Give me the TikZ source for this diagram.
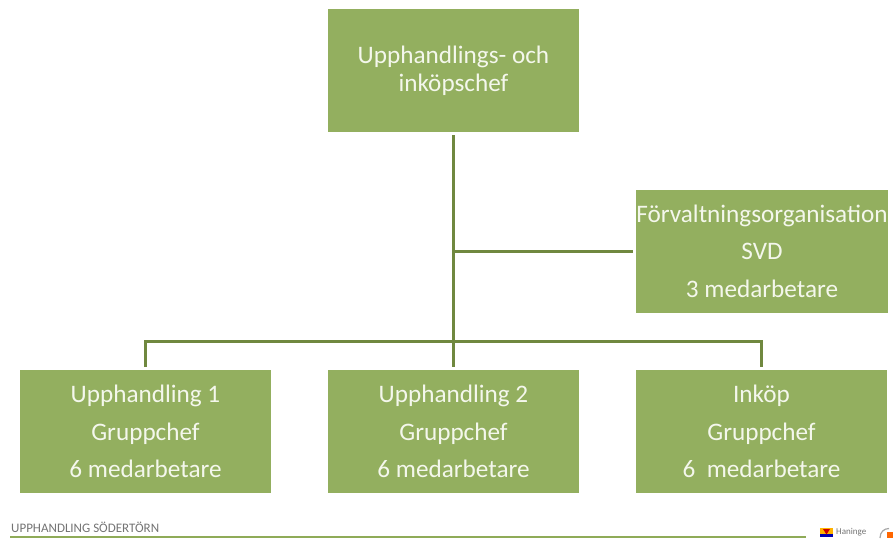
\documentclass[tikz,border=0pt]{standalone}
\usepackage{fontspec}
\setmainfont{Carlito}
\definecolor{boxgreen}{HTML}{93AF5F}
\definecolor{linegreen}{HTML}{70883F}
\definecolor{footgreen}{HTML}{8FAB58}
\definecolor{boxtext}{HTML}{F4F7EC}
\newcommand{\uptext}[1]{\raisebox{1pt}{\parbox{240pt}{\centering\fontsize{25.2}{37.5}\selectfont #1}}}
\tikzset{
  orgbox/.style={draw=none,fill=boxgreen,text=boxtext,minimum width=#1,minimum height=123pt,inner sep=0pt,outer sep=3pt,align=center,font=\fontsize{25.2}{37.5}\selectfont},
  orgbox/.default=251pt,
  link/.style={draw=linegreen,line width=3pt},
  footer/.style={inner sep=0pt,anchor=west,text=black!55}
}
\begin{document}
\begin{tikzpicture}[x=1pt,y=-1pt]
\useasboundingbox (0,0) rectangle (893,538);
\node[orgbox] (chef) at (453.5,70.5) {\raisebox{10pt}{\parbox{240pt}{\centering\fontsize{25.2}{28}\selectfont Upphandlings- och\\ inköpschef}}};
\node[orgbox=252pt] (forv) at (762,251) {Förvaltningsorganisation\\SVD\\3 medarbetare};
\node[orgbox] (u1) at (145.5,431.5) {\uptext{Upphandling 1\\Gruppchef\\6 medarbetare}};
\node[orgbox] (u2) at (453.5,431.5) {\uptext{Upphandling 2\\Gruppchef\\6 medarbetare}};
\node[orgbox] (ink) at (761.5,431.5) {\uptext{Inköp\\Gruppchef\\6 \ medarbetare}};
\coordinate (jf) at (chef.south |- forv.west);
\coordinate (jb) at (453.5,341);
\draw[link] (chef.south) -- (u2.north);
\draw[link] (jf) -- (forv.west);
\draw[link,line join=miter] (u1.north) |- (jb) -| (ink.north);
\node[footer,font=\fontsize{13}{14}\selectfont] (ft) at (11,527.5) {UPPHANDLING SÖDERTÖRN};
\coordinate (fa) at (10,536.7);
\coordinate (fb) at (806,536.7);
\draw[draw=footgreen,line width=2pt] (fa) -- (fb);
\fill[orange!60!yellow] (820,528) rectangle (833,537);
\fill[blue!70!black] (820,534) rectangle (833,537);
\fill[red!80!black] (823,529) -- (826.5,534.5) -- (830,529) -- cycle;
\node[footer,font=\fontsize{9}{10}\selectfont] (han) at (836,532) {Haninge};
\draw[draw=black!35,line width=1.2pt] (880,538) .. controls (880,532) and (884,528.5) .. (889,528.5);
\fill[orange!80!red] (887,532) rectangle (893,538);
\end{tikzpicture}
\end{document}
